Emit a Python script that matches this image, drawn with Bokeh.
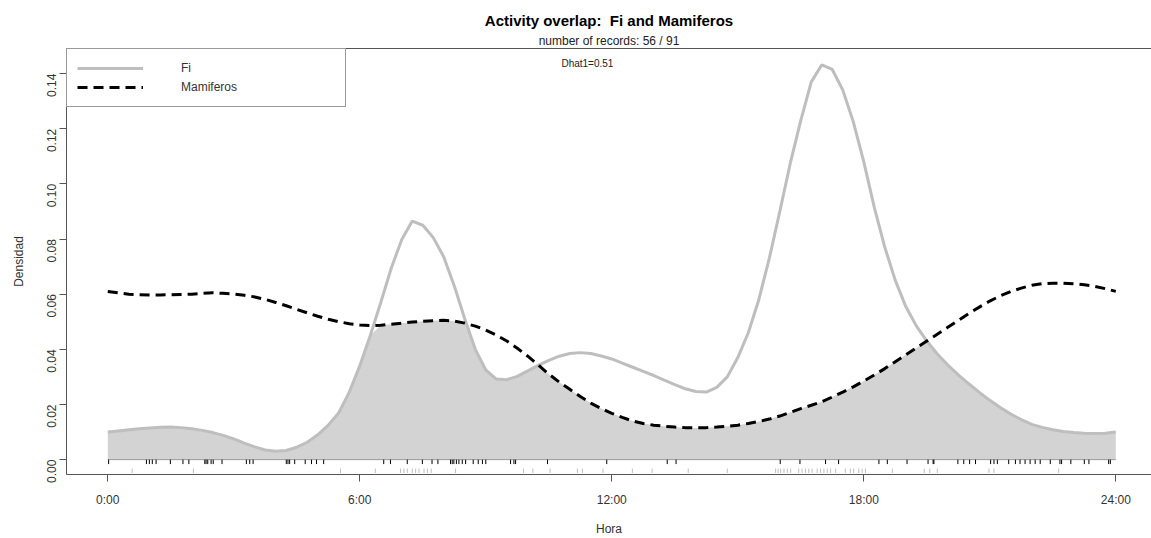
import math
import numpy as np
from bokeh.plotting import figure
from bokeh.models import (Range1d, FixedTicker, LinearAxis, Label, Legend, LegendItem,
                          NumeralTickFormatter, Title)
from bokeh.embed import file_html
from bokeh.resources import INLINE

# ---------------- data ----------------
hours = [0.0, 0.25, 0.5, 0.75, 1.0, 1.25, 1.5, 1.75, 2.0, 2.25, 2.5, 2.75, 3.0, 3.25, 3.5, 3.75,
         4.0, 4.25, 4.5, 4.75, 5.0, 5.25, 5.5, 5.75, 6.0, 6.25, 6.5, 6.75, 7.0, 7.25, 7.5, 7.75,
         8.0, 8.25, 8.5, 8.75, 9.0, 9.25, 9.5, 9.75, 10.0, 10.25, 10.5, 10.75, 11.0, 11.25, 11.5,
         11.75, 12.0, 12.25, 12.5, 12.75, 13.0, 13.25, 13.5, 13.75, 14.0, 14.25, 14.5, 14.75,
         15.0, 15.25, 15.5, 15.75, 16.0, 16.25, 16.5, 16.75, 17.0, 17.25, 17.5, 17.75, 18.0,
         18.25, 18.5, 18.75, 19.0, 19.25, 19.5, 19.75, 20.0, 20.25, 20.5, 20.75, 21.0, 21.25,
         21.5, 21.75, 22.0, 22.25, 22.5, 22.75, 23.0, 23.25, 23.5, 23.75, 24.0]

fi_density = [0.0100, 0.0104, 0.0108, 0.0112, 0.0115, 0.0117, 0.0118, 0.0116, 0.0112, 0.0106,
              0.0098, 0.0088, 0.0075, 0.0060, 0.0046, 0.0035, 0.0030, 0.0033, 0.0045, 0.0063,
              0.0090, 0.0125, 0.0170, 0.0245, 0.0340, 0.0450, 0.0570, 0.0695, 0.0798, 0.0865,
              0.0850, 0.0805, 0.0735, 0.0630, 0.0510, 0.0400, 0.0325, 0.0292, 0.0290, 0.0302,
              0.0322, 0.0342, 0.0360, 0.0375, 0.0385, 0.0388, 0.0385, 0.0376, 0.0365, 0.0350,
              0.0335, 0.0320, 0.0305, 0.0288, 0.0272, 0.0257, 0.0247, 0.0245, 0.0262, 0.0300,
              0.0370, 0.0460, 0.0580, 0.0730, 0.0900, 0.1075, 0.1230, 0.1370, 0.1432, 0.1415,
              0.1340, 0.1225, 0.1080, 0.0915, 0.0770, 0.0650, 0.0555, 0.0485, 0.0430, 0.0383,
              0.0343, 0.0307, 0.0275, 0.0244, 0.0215, 0.0189, 0.0165, 0.0145, 0.0128, 0.0117,
              0.0108, 0.0102, 0.0098, 0.0096, 0.0095, 0.0096, 0.0100]

mam_density = [0.0610, 0.0605, 0.0600, 0.0598, 0.0597, 0.0597, 0.0598, 0.0599, 0.0600, 0.0603,
               0.0605, 0.0603, 0.0600, 0.0596, 0.0590, 0.0581, 0.0570, 0.0558, 0.0545, 0.0532,
               0.0520, 0.0509, 0.0500, 0.0493, 0.0488, 0.0486, 0.0487, 0.0491, 0.0495, 0.0499,
               0.0502, 0.0504, 0.0505, 0.0502, 0.0495, 0.0484, 0.0470, 0.0452, 0.0430, 0.0404,
               0.0375, 0.0343, 0.0310, 0.0281, 0.0255, 0.0229, 0.0205, 0.0185, 0.0168, 0.0153,
               0.0140, 0.0131, 0.0125, 0.0121, 0.0118, 0.0116, 0.0115, 0.0116, 0.0118, 0.0121,
               0.0125, 0.0131, 0.0138, 0.0147, 0.0158, 0.0171, 0.0185, 0.0197, 0.0210, 0.0227,
               0.0245, 0.0264, 0.0285, 0.0307, 0.0330, 0.0355, 0.0380, 0.0405, 0.0430, 0.0455,
               0.0480, 0.0505, 0.0530, 0.0553, 0.0575, 0.0594, 0.0610, 0.0622, 0.0632, 0.0638,
               0.0640, 0.0640, 0.0638, 0.0634, 0.0628, 0.0620, 0.0610]

mam_times = [0.02, 0.92, 0.99, 1.06, 1.15, 1.49, 1.79, 1.93, 2.31, 2.34, 2.38, 2.46, 2.51, 2.72,
             3.30, 3.38, 3.46, 4.25, 4.29, 4.33, 4.45, 4.70, 4.85, 4.97, 5.14,
             6.57, 6.73, 7.13, 7.49, 7.72, 7.86, 8.16, 8.20, 8.24, 8.30, 8.36, 8.44, 8.52, 8.70,
             8.82, 8.92, 9.00, 9.59, 9.67, 9.71,
             10.47, 11.88, 13.32, 13.53, 16.01, 16.48, 17.09, 17.40, 18.36, 18.56, 19.03,
             19.53, 19.65, 19.67, 20.24, 20.38, 20.52, 20.66, 21.02, 21.10, 21.18, 21.45, 21.61,
             21.72, 21.84, 21.96, 22.08, 22.20, 22.44, 22.67, 22.71, 22.93, 23.25, 23.36, 23.83,
             23.87]

fi_times = [0.58, 2.04, 5.54, 6.37, 6.97, 7.05, 7.13, 7.25, 7.33, 7.41, 7.53, 7.61, 7.70, 8.28,
            9.90, 10.12, 10.53, 11.18, 11.30, 11.79, 12.49, 12.96, 13.82, 14.75, 15.90, 15.96,
            16.02, 16.10, 16.18, 16.26, 16.45, 16.53, 16.61, 16.69, 16.77, 16.89, 16.97, 17.05,
            17.13, 17.21, 17.33, 17.56, 17.68, 17.76, 17.88, 17.96, 18.04, 18.68, 19.44, 19.57,
            19.75, 20.98, 21.10, 22.64]

x_ticks = [0, 6, 12, 18, 24]
x_tick_labels = ["0:00", "6:00", "12:00", "18:00", "24:00"]
y_ticks = [0.00, 0.02, 0.04, 0.06, 0.08, 0.10, 0.12, 0.14]

title_text = "Activity overlap:\u00a0 Fi and Mamiferos"
subtitle_text = "number of records: 56 / 91"
dhat_text = "Dhat1=0.51"

# ---------------- figure ----------------
FONT = "Liberation Sans"
p = figure(width=1151, height=538, output_backend="svg", toolbar_location=None,
           x_range=Range1d(-0.983, 24.85), y_range=Range1d(-0.0054, 0.1491),
           min_border_left=66, min_border_right=0, min_border_top=48, min_border_bottom=61)
p.outline_line_color = None
p.grid.visible = False
p.background_fill_color = "white"
p.border_fill_color = "white"

overlap = np.minimum(np.array(fi_density), np.array(mam_density))
p.varea(x=hours, y1=0, y2=overlap, fill_color="#D3D3D3", fill_alpha=1.0)
p.line(x=[hours[0], hours[-1]], y=[0, 0], line_color="#9a9a9a", line_width=1)

fi_r = p.line(x=hours, y=fi_density, line_color="#BEBEBE", line_width=3)
mam_r = p.line(x=hours, y=mam_density, line_color="black", line_width=3, line_dash="10 6")

# rugs
px = 0.1545 / 429.0
p.segment(x0=mam_times, y0=0, x1=mam_times, y1=-4.5 * px, line_color="black", line_width=1)
p.segment(x0=fi_times, y0=-9 * px, x1=fi_times, y1=-13.5 * px, line_color="#BEBEBE", line_width=1)

# axes styling
AX_COLOR = "#555555"
xa = p.xaxis[0]
xa.ticker = FixedTicker(ticks=x_ticks)
xa.major_label_overrides = {t: l for t, l in zip(x_ticks, x_tick_labels)}
xa.axis_label = "Hora"
ya = p.yaxis[0]
ya.ticker = FixedTicker(ticks=y_ticks)
ya.formatter = NumeralTickFormatter(format="0.00")
ya.axis_label = "Densidad"
ya.major_label_orientation = math.pi / 2
for ax in (xa, ya):
    ax.axis_line_color = AX_COLOR
    ax.major_tick_line_color = AX_COLOR
    ax.minor_tick_line_color = None
    ax.major_tick_out = 7
    ax.major_tick_in = 0
    ax.major_label_text_font = FONT
    ax.major_label_text_font_size = "12px"
    ax.major_label_text_color = "#333333"
    ax.axis_label_text_font = FONT
    ax.axis_label_text_font_size = "12px"
    ax.axis_label_text_font_style = "normal"
    ax.axis_label_text_color = "#333333"
xa.major_label_standoff = 11
xa.axis_label_standoff = 12
ya.major_label_standoff = 8
ya.axis_label_standoff = 14

top_axis = LinearAxis(ticker=FixedTicker(ticks=[]), axis_line_color=AX_COLOR,
                      major_label_text_font_size="0px", major_tick_line_color=None,
                      minor_tick_line_color=None, major_tick_out=0, major_tick_in=0,
                      major_label_standoff=0)
p.add_layout(top_axis, "above")

p.add_layout(Title(text=subtitle_text, align="center", text_font=FONT, text_font_size="12px",
                   text_font_style="normal", text_color="#222222", standoff=1), "above")
p.add_layout(Title(text=title_text, align="center", text_font=FONT, text_font_size="15px",
                   text_font_style="bold", text_color="black", standoff=5), "above")

# legend
legend = Legend(items=[LegendItem(label="Fi", renderers=[fi_r]),
                       LegendItem(label="Mamiferos", renderers=[mam_r])],
                location="top_left", margin=0, padding=10, spacing=1,
                glyph_width=66, glyph_height=18, label_height=18, label_width=154,
                label_standoff=38, border_line_color="#333333", border_line_width=1,
                label_text_font=FONT, label_text_font_size="12px", label_text_color="#333333",
                background_fill_alpha=1.0)
p.add_layout(legend)

p.add_layout(Label(x=11.42, y=0.1437, text=dhat_text, text_align="center",
                   text_baseline="middle", text_font=FONT, text_font_size="10px",
                   text_color="#222222"))

open("out.html", "w").write(file_html(p, INLINE))
